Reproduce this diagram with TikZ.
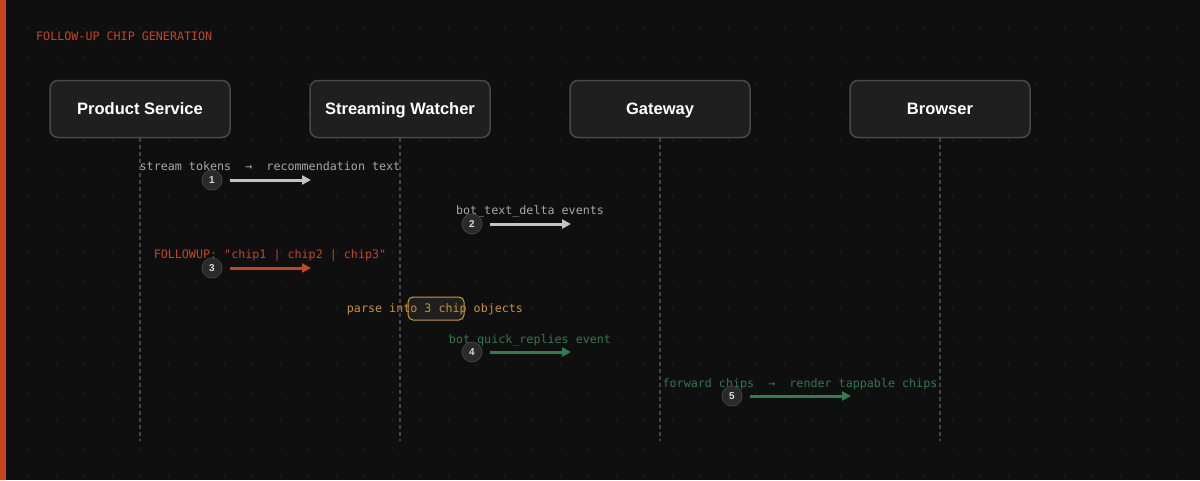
\documentclass[tikz,border=0pt]{standalone}
\usepackage{fontspec}
\setmainfont{Liberation Sans}
\newfontfamily\monof{DejaVu Sans Mono}
\usetikzlibrary{arrows.meta}
\definecolor{bg}{HTML}{0F0F0F}
\definecolor{gridc}{HTML}{1A1A1A}
\definecolor{boxfill}{HTML}{1F1F1F}
\definecolor{boxline}{HTML}{484848}
\definecolor{lifec}{HTML}{444444}
\definecolor{accent}{HTML}{C8441E}
\definecolor{graytxt}{HTML}{A8A8A8}
\definecolor{grayarr}{HTML}{C4C4C4}
\definecolor{greentxt}{HTML}{2E7A4E}
\definecolor{greenarr}{HTML}{2F8050}
\definecolor{ambertxt}{HTML}{C8922E}
\definecolor{amberline}{HTML}{D09A2A}
\definecolor{circfill}{HTML}{2A2A2A}
\definecolor{circline}{HTML}{3C3C3C}
\tikzset{
  actor/.style={draw=boxline, line width=1.5pt, fill=boxfill, rounded corners=8pt,
    minimum width=180pt, minimum height=57pt, text height=12pt, text depth=0.5pt,
    font=\fontsize{16.5}{18}\selectfont\bfseries, text=white},
  life/.style={draw=lifec, line width=1.5pt, dash pattern=on 4pt off 3pt},
  msg/.style={font=\monof\fontsize{11.7}{13}\selectfont, inner sep=0pt, anchor=base},
  num/.style={circle, fill=circfill, draw=circline, line width=1pt, minimum size=20pt, inner sep=0pt,
    font=\fontsize{10}{12}\selectfont\bfseries, text=white!85!black},
  arr/.style={line width=3pt, -{Triangle[length=9pt,width=9pt]}},
}
\begin{document}
\begin{tikzpicture}[x=1pt,y=-1pt]
\useasboundingbox (0,0) rectangle (1200,480);
\fill[bg] (0,0) rectangle (1200,480);
% dot grid
\foreach \i in {1,...,42}{
  \foreach \j in {1,...,17}{
    \draw[gridc, line width=0.8pt] (\i*28-1.5,\j*28) -- (\i*28+1.5,\j*28) (\i*28,\j*28-1.5) -- (\i*28,\j*28+1.5);
  }
}
\fill[accent] (0,0) rectangle (6,480);
\node[msg, anchor=base west, text=accent] (title) at (36,40) {FOLLOW-UP CHIP GENERATION};
% actors
\node[actor] (ps) at (140,109) {Product Service};
\node[actor] (sw) at (400,109) {Streaming Watcher};
\node[actor] (gw) at (660,109) {Gateway};
\node[actor] (br) at (940,109) {Browser};
\foreach \a/\x in {ps/140,sw/400,gw/660,br/940}{
  \coordinate (\a end) at (\x,441);
  \draw[life] (\a.south) -- (\a end);
}
% self-action box
\node[draw=amberline, line width=1pt, fill=boxfill, rounded corners=5pt, minimum width=56pt, minimum height=23pt, inner sep=0pt] (selfbox) at (436,308.5) {};
\node[msg, text=ambertxt] (m4) at (435,312) {parse into 3 chip objects};
% message 1
\node[msg, text=graytxt] (l1) at (270,170) {stream tokens\ \ →\ \ recommendation text};
\node[num] (n1) at (212,180) {1};
\coordinate (a1s) at (230,180); \coordinate (a1e) at (311,180);
\draw[arr, grayarr] (a1s) -- (a1e);
% message 2
\node[msg, text=graytxt] (l2) at (530,214) {bot\_text\_delta events};
\node[num] (n2) at (472,224) {2};
\coordinate (a2s) at (490,224); \coordinate (a2e) at (571,224);
\draw[arr, grayarr] (a2s) -- (a2e);
% message 3
\node[msg, text=accent] (l3) at (270,258) {FOLLOWUP: "chip1 | chip2 | chip3"};
\node[num] (n3) at (212,268) {3};
\coordinate (a3s) at (230,268); \coordinate (a3e) at (311,268);
\draw[arr, accent] (a3s) -- (a3e);
% message 4
\node[msg, text=greentxt] (l4) at (530,343) {bot\_quick\_replies event};
\node[num] (n4) at (472,352) {4};
\coordinate (a4s) at (490,352); \coordinate (a4e) at (571,352);
\draw[arr, greenarr] (a4s) -- (a4e);
% message 5
\node[msg, text=greentxt] (l5) at (800,387) {forward chips\ \ →\ \ render tappable chips};
\node[num] (n5) at (732,396) {5};
\coordinate (a5s) at (750,396); \coordinate (a5e) at (851,396);
\draw[arr, greenarr] (a5s) -- (a5e);
\end{tikzpicture}
\end{document}
